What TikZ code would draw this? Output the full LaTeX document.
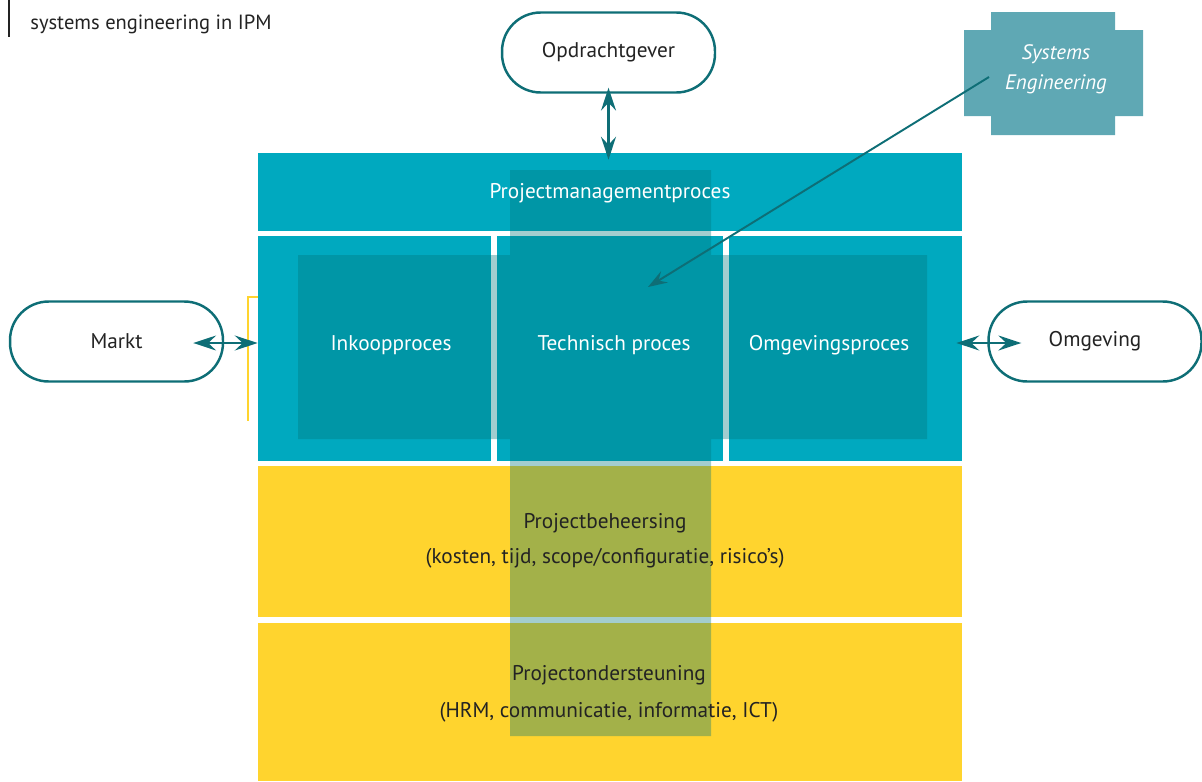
\documentclass[tikz,border=0pt]{standalone}
\usepackage{fontspec}
\setmainfont{PT Sans}
\usetikzlibrary{arrows.meta,fit}
\definecolor{band}{RGB}{0,169,191}
\definecolor{sun}{RGB}{255,212,46}
\definecolor{edge}{RGB}{14,110,118}
\definecolor{seblue}{RGB}{95,168,180}
\definecolor{sedark}{RGB}{0,117,122}
\definecolor{ink}{RGB}{35,35,35}
\begin{document}
\begin{tikzpicture}[x=0.02cm,y=-0.02cm,
  lbl/.style={font=\fontsize{12.1}{14.5}\selectfont},
  panel/.style={inner sep=0pt, draw=none},
  actor/.style={draw=edge, line width=1.4pt, fill=white, rounded corners=22pt,
    minimum height=1.6cm, text=ink, font=\fontsize{12.1}{14.5}\selectfont},
  dbl/.style={draw=edge, line width=1.4pt,
    {Stealth[length=13pt,width=8.5pt,inset=4.5pt]}-{Stealth[length=13pt,width=8.5pt,inset=4.5pt]}},
  sgl/.style={draw=edge, line width=1.1pt, -{Stealth[length=11pt,width=7.5pt,inset=4pt]}}
]
\useasboundingbox (0,0) rectangle (1202,781);

% caption
\draw[ink, line width=1.6pt] (9,0) -- (9,37);
\node[anchor=base west, inner sep=0pt, text=ink, font=\fontsize{11.7}{14}\selectfont] (caption) at (30,30) {systems engineering in IPM};

% process panels
\node[fit={(258,153) (962,231)}, panel, fill=band] (pm) {};
\node[fit={(258,236) (491,461)}, panel, fill=band] (ink1) {};
\node[fit={(497,236) (723,461)}, panel, fill=band] (tech) {};
\node[fit={(729,236) (962,461)}, panel, fill=band] (omgp) {};
\node[fit={(258,466) (962,617)}, panel, fill=sun] (beh) {};
\node[fit={(258,623) (962,781)}, panel, fill=sun] (ond) {};

% systems engineering overlay (cross shaped, translucent)
\fill[sedark, opacity=0.36] (510,170) -- (711,170) -- (711,255) -- (927,255) -- (927,439)
  -- (711,439) -- (711,736) -- (510,736) -- (510,439) -- (298,439) -- (298,255)
  -- (510,255) -- cycle;

% thin marker line left of the middle row
\draw[sun, line width=0.6pt] (258,297) -- (248,297) -- (248,421);

% panel labels
\node[lbl, text=white] (pmt) at (610,193) {Projectmanagementproces};
\node[lbl, text=white] (inkt) at (391,345) {Inkoopproces};
\node[lbl, text=white] (techt) at (614,345) {Technisch proces};
\node[lbl, text=white] (omgpt) at (829,345) {Omgevingsproces};
\node[lbl, text=ink, align=center] (beht) at (605,541) {Projectbeheersing\\[5.5pt](kosten, tijd, scope/configuratie, risico’s)};
\node[lbl, text=ink, align=center] (ondt) at (609,694) {Projectondersteuning\\[6.5pt](HRM, communicatie, informatie, ICT)};

% external parties
\node[actor, minimum width=4.26cm] (opd) at (608.5,52.5) {Opdrachtgever};
\node[actor, minimum width=4.26cm] (markt) at (116.5,341.5) {Markt};
\node[actor, minimum width=4.26cm] (omg) at (1095,341.5) {Omgeving};

% systems engineering badge
\fill[seblue] (991,12) -- (1115,12) -- (1115,30) -- (1143,30) -- (1143,116) -- (1115,116)
  -- (1115,135) -- (991,135) -- (991,116) -- (964,116) -- (964,30) -- (991,30) -- cycle;
\node[text=white, align=center, font=\fontsize{11.9}{17}\selectfont\itshape] (se) at (1056,69) {Systems\\Engineering};

% connectors
\draw[dbl] ([yshift=0.12cm]opd.south) -- ([yshift=-0.14cm]opd.south |- pm.north);
\draw[dbl] ([xshift=-0.62cm,yshift=-0.03cm]markt.east) -- ([yshift=-0.03cm]markt.east -| ink1.west);
\draw[dbl] ([xshift=-0.12cm,yshift=-0.03cm]omg.west -| omgp.east) -- ([xshift=0.68cm,yshift=-0.03cm]omg.west);
\coordinate (setail) at (989,77);
\coordinate (sehead) at (648,287);
\draw[sgl] (setail) -- (sehead);
\end{tikzpicture}
\end{document}
